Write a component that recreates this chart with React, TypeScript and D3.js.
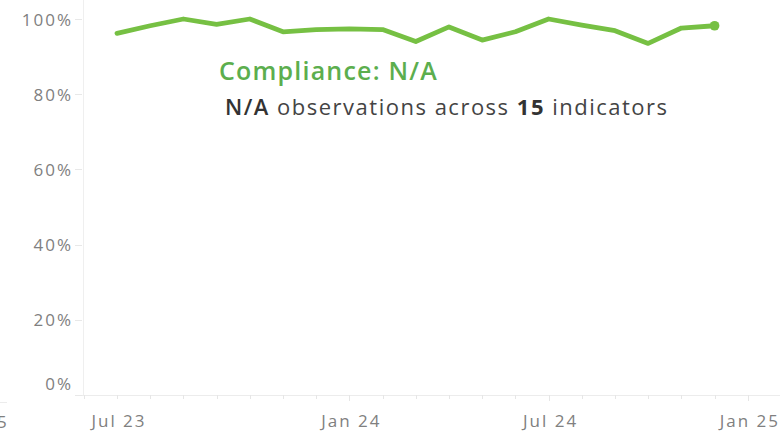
import React from "react";
import * as d3 from "d3";

const values: number[] = [96.2, 98.2, 100, 98.6, 100, 96.6, 97.2, 97.4, 97.2, 94.0, 97.9, 94.4, 96.6, 100, 98.4, 96.9, 93.5, 97.6, 98.2];
const yTicks: number[] = [0, 20, 40, 60, 80, 100];
const xTickLabels: string[] = ["Jul 23", "Jan 24", "Jul 24", "Jan 25"];
const xTickIndex: number[] = [0, 7, 13, 19];
const title = "Compliance: N/A";

const W = 780;
const H = 433;
const FONT = "'Open Sans', sans-serif";

export default function App() {
  const x = d3.scaleLinear().domain([-1, 19]).range([83.8, 747.8]);
  const y = d3.scaleLinear().domain([0, 100]).range([395, 19]);
  const line = d3
    .line<number>()
    .x((_, i) => x(i))
    .y((d) => y(d));
  const monthTicks = d3.range(-1, 21);
  const last = values.length - 1;

  return (
    <svg
      width={W}
      height={H}
      style={{ position: "fixed", left: 0, top: 0, background: "#fff" }}
      fontFamily={FONT}
    >
      {/* stray fragment at left */}
      <line x1={0} x2={7} y1={402.5} y2={402.5} stroke="#ececec" strokeWidth={1} />
      <text x={-3} y={421} dominantBaseline="central" fontSize={17} fill="#808080">
        5
      </text>

      {/* y axis line */}
      <line x1={83.5} x2={83.5} y1={0} y2={395} stroke="#efefef" strokeWidth={1} />
      {/* x axis baseline */}
      <line x1={75} x2={W} y1={395.5} y2={395.5} stroke="#ececec" strokeWidth={1} />

      {yTicks.map((t) => (
        <g key={t}>
          <line x1={75} x2={82} y1={Math.round(y(t)) + 0.5} y2={Math.round(y(t)) + 0.5} stroke="#e8e8e8" />
          <text
            x={73}
            y={t === 0 ? y(t) - 12 : y(t)}
            textAnchor="end"
            dominantBaseline="central"
            fontSize={17}
            letterSpacing={2}
            fill="#808080"
          >
            {t}%
          </text>
        </g>
      ))}

      {monthTicks.map((m) => (
        <line
          key={m}
          x1={Math.round(x(m)) + 0.5}
          x2={Math.round(x(m)) + 0.5}
          y1={395}
          y2={xTickIndex.includes(m) && m !== 0 ? 401 : 399}
          stroke="#e6e6e6"
        />
      ))}

      {xTickLabels.map((lab, i) => (
        <text
          key={lab}
          x={x(xTickIndex[i]) + 2}
          y={420}
          textAnchor="middle"
          dominantBaseline="central"
          fontSize={17}
          letterSpacing={2}
          fill="#808080"
        >
          {lab}
        </text>
      ))}

      <path d={line(values) || ""} fill="none" stroke="#76c043" strokeWidth={4.8} strokeLinejoin="round" strokeLinecap="round" />
      <circle cx={x(last)} cy={y(values[last])} r={4.8} fill="#76c043" />

      <text x={219} y={80} fontSize={25} fontWeight={600} letterSpacing={1.2} fill="#5cae4e">
        {title}
      </text>
      <text x={225} y={115} fontSize={22} letterSpacing={1.5} fill="#444">
        <tspan fontWeight={600} fill="#333">N/A</tspan>
        <tspan> observations across </tspan>
        <tspan fontWeight={700} fill="#333">15</tspan>
        <tspan> indicators</tspan>
      </text>
    </svg>
  );
}
